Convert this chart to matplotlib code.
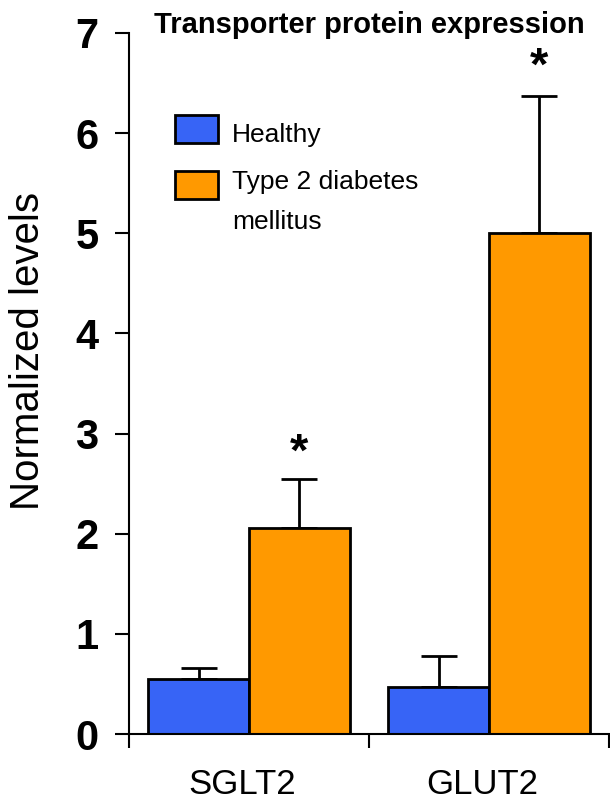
import numpy as np
import matplotlib
matplotlib.use('Agg')
import matplotlib.pyplot as plt
from matplotlib.patches import Rectangle

# 데이터
groups = ['SGLT2', 'GLUT2']
series = ['Healthy', 'Type 2 diabetes\nmellitus']
healthy = [0.55, 0.47]
healthy_err = [0.11, 0.31]
diabetes = [2.06, 5.0]
diabetes_err = [0.49, 1.37]
star_y = [2.80, 6.65]

blue = '#3764F6'
orange = '#FF9900'
narrow = ['Liberation Sans Narrow', 'Liberation Sans', 'DejaVu Sans']
plt.rcParams['font.family'] = ['Liberation Sans', 'DejaVu Sans']

fig = plt.figure(figsize=(6.1, 8.0), dpi=100)
ax = fig.add_axes([129/610, 66/800, 480/610, 701/800])

x = np.arange(len(groups)) + 0.5
w = 0.42
ax.bar(x - w/2, healthy, w, color=blue, edgecolor='black', linewidth=2, zorder=2)
ax.bar(x + w/2, diabetes, w, color=orange, edgecolor='black', linewidth=2, zorder=2)
ax.errorbar(x - w/2, healthy, yerr=[np.zeros(2), healthy_err], fmt='none',
            ecolor='black', elinewidth=2, capsize=13, capthick=2, zorder=1)
ax.errorbar(x + w/2, diabetes, yerr=[np.zeros(2), diabetes_err], fmt='none',
            ecolor='black', elinewidth=2, capsize=13, capthick=2, zorder=1)

# 유의성 표시
for xi, yi in zip(x + w/2, star_y):
    ax.text(xi, yi, '*', ha='center', va='center', fontsize=34, fontweight='bold',
            family=narrow)

ax.set_xlim(0, 2)
ax.set_ylim(0, 7)
ax.set_yticks(range(8))
ax.set_yticklabels([str(i) for i in range(8)], fontsize=30, fontweight='bold', family=narrow)
ax.set_xticks([0, 1, 2])
ax.set_xticklabels([])
ax.tick_params(axis='both', direction='out', length=10, width=1.5)
ax.tick_params(axis='y', pad=12)
for xi, g in zip(x, groups):
    ax.text(xi - 0.03, -0.60, g, ha='center', va='baseline', fontsize=25, clip_on=False)

ax.spines['top'].set_visible(False)
ax.spines['right'].set_visible(False)
ax.spines['left'].set_linewidth(1.5)
ax.spines['bottom'].set_linewidth(1.5)
ax.set_ylabel('Normalized levels', fontsize=29)
ax.yaxis.set_label_coords(-0.17, 0.546)

ax.text(0.5, 1.0, 'Transporter protein expression', transform=ax.transAxes,
        ha='center', va='baseline', fontsize=21, fontweight='bold', family=narrow)

# 범례 (두 줄 라벨의 첫 줄에 상자를 맞춤)
legend_colors = [blue, orange]
box_y = [0.843, 0.763]
text_y = [0.871, 0.805]
for c, by, ty, lab in zip(legend_colors, box_y, text_y, series):
    ax.add_patch(Rectangle((0.096, by), 0.0896, 0.040, transform=ax.transAxes,
                           facecolor=c, edgecolor='black', linewidth=2, clip_on=False))
    ax.text(0.215, ty, lab, transform=ax.transAxes, ha='left', va='top',
            fontsize=19, linespacing=1.85)

fig.savefig('out.png', dpi=100)
